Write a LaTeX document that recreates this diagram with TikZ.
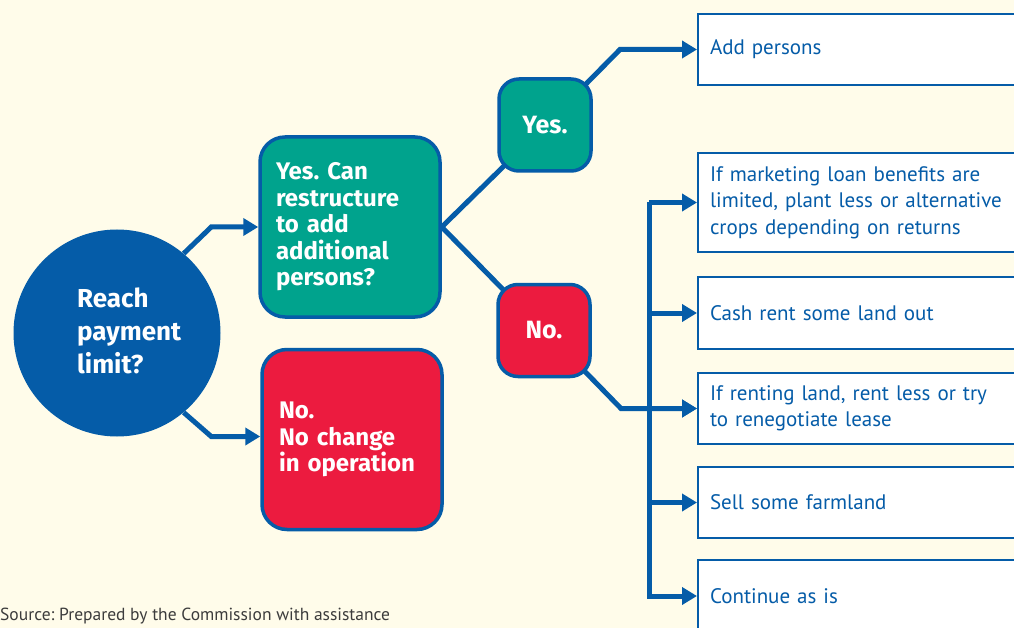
\documentclass[tikz,border=0pt]{standalone}
\usepackage{fontspec}
\setmainfont{PT Sans}
\newfontfamily\boldsans{Fira Sans}
\usetikzlibrary{calc,arrows.meta,backgrounds}
\definecolor{planblue}{HTML}{055CA8}
\definecolor{planteal}{HTML}{00A38D}
\definecolor{planred}{HTML}{EC1B3F}
\definecolor{plancream}{HTML}{FFFCEA}
\definecolor{srcgray}{HTML}{3C3C3C}
\tikzset{
  link/.style={draw=planblue, line width=5pt, -{Triangle[length=15pt,width=17pt]}},
  limitdot/.style={circle, fill=planblue, minimum size=207pt, inner sep=0pt},
  bigtext/.style={text=white, font=\boldsans\bfseries\fontsize{26}{33}\selectfont, align=left, inner sep=0pt},
  decision/.style={draw=planblue, line width=3.5pt, rounded corners=25pt, minimum width=180pt,
    minimum height=180pt, text=white, font=\boldsans\bfseries\fontsize{24}{26.5}\selectfont, align=left, inner sep=0pt},
  answer/.style={draw=planblue, line width=3.5pt, rounded corners=20pt, minimum width=92pt,
    minimum height=92pt, text=white, font=\boldsans\bfseries\fontsize{25}{26.5}\selectfont},
  action/.style={draw=planblue, line width=2pt, fill=white, anchor=west, minimum width=330pt,
    text width=306pt, inner xsep=12pt, align=left, text=planblue, font=\fontsize{21}{26.5}\selectfont},
  source/.style={text=srcgray, font=\fontsize{17.5}{20}\selectfont, inner sep=0pt}
}
\begin{document}
\frenchspacing
\begin{tikzpicture}[x=1pt,y=-1pt]
  %%%%% START %%%%%
  \clip (0,0) rectangle (1014,628);

  \node[limitdot] (reach) at (117,333) {};
  \node[bigtext, anchor=west] (reachtxt) at (77,331) {Reach\\payment\\limit?};

  \node[decision, fill=planteal, text width=148pt] (restructure) at (350,227)
    {Yes. Can\\restructure\\to add\\additional\\persons?};
  \node[decision, fill=planred, text width=146pt] (nochange) at (352,439.5)
    {No.\\No change\\in operation};

  \node[answer, fill=planteal] (yes) at (545,125) {Yes.};
  \node[answer, fill=planred] (no) at (544,330.5) {No.};

  \node[action, minimum height=71pt] (add) at (697,49.5) {Add persons};
  \node[action, minimum height=99pt] (crops) at (697,202.5)
    {If marketing loan benefits are\\limited, plant less or alternative\\crops depending on returns};
  \node[action, minimum height=72pt] (cash) at (697,313) {Cash rent some land out};
  \node[action, minimum height=71pt] (rent) at (697,408.5)
    {If renting land, rent less or try\\to renegotiate lease};
  \node[action, minimum height=71pt] (sell) at (697,502.5) {Sell some farmland};
  \node[action, minimum height=72pt] (cont) at (697,596) {Continue as is};

  \node[source, anchor=base west] (src) at (0,620) {Source: Prepared by the Commission with assistance};

  \begin{pgfonlayer}{background}
    \fill[plancream] (0,0) rectangle (1014,628);
    % connectors, hidden under the boxes
    \draw[link] (reach.50) -- ($(restructure.west)+(-47,0)$) -- (restructure.west);
    \draw[link] (reach.-50) -- ($(nochange.west)+(-49,-3)$) -- ($(nochange.west)+(0,-3)$);
    \draw[link, -] (restructure.east) -- ($(yes.south west)+(9,-9)$);
    \draw[link, -] (restructure.east) -- ($(no.north west)+(9,9)$);
    \draw[link] ($(yes.north east)+(-8,8)$) -- ($(add.west)+(-77,0)$) -- (add.west);
    \draw[link] ($(no.south east)+(-8,-8)$) -- ($(rent.west)+(-76,0)$) -- (rent.west);
    \coordinate (trunk) at ($(crops.west)+(-48,0)$);
    \foreach \b in {crops,cash,rent,sell,cont}
      \draw[link] (trunk) |- (\b.west);
  \end{pgfonlayer}
  %%%%% END %%%%%
\end{tikzpicture}
\end{document}
